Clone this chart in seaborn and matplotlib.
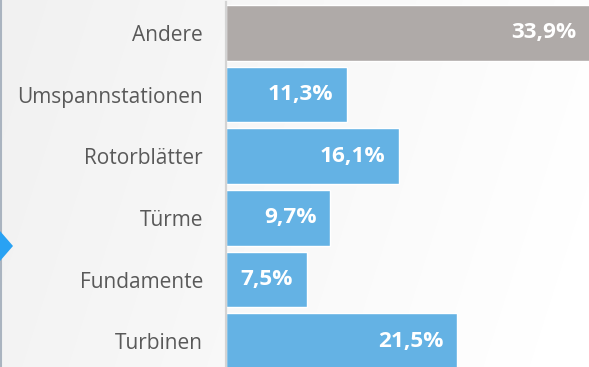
import numpy as np
import pandas as pd
import matplotlib
matplotlib.use("Agg")
import matplotlib.pyplot as plt
from matplotlib.patches import Polygon
from matplotlib.lines import Line2D
import seaborn as sns

categories = ["Andere", "Umspannstationen", "Rotorblätter", "Türme", "Fundamente", "Turbinen"]
shares = [33.9, 11.3, 16.1, 9.7, 7.5, 21.5]
value_labels = ["33,9%", "11,3%", "16,1%", "9,7%", "7,5%", "21,5%"]
bar_colors = ["#afaaa8", "#64b2e4", "#64b2e4", "#64b2e4", "#64b2e4", "#64b2e4"]

df = pd.DataFrame({"Kategorie": categories, "Anteil": shares})

sns.set_style("white")
plt.rcParams["font.family"] = ["Open Sans", "DejaVu Sans"]

W, H, DPI = 589, 367, 100
fig = plt.figure(figsize=(W / DPI, H / DPI), dpi=DPI)

# soft grey-to-white background
xx = np.linspace(0, 1, W)[None, :]
yy = np.linspace(0, 1, H)[:, None]
shade = 0.945 + 0.05 * xx + 0.01 * yy
shade = np.clip(shade, 0, 1)
bg = np.dstack([shade, shade, shade])
fig.figimage(bg, xo=0, yo=0, origin="upper", zorder=-10)

ax = fig.add_axes([226 / W, 1 - 372 / H, 1 - 226 / W, 370 / H])
ax.set_zorder(1)
ax.patch.set_alpha(0)

sns.barplot(data=df, y="Kategorie", x="Anteil", hue="Kategorie",
            palette=bar_colors, orient="h", width=0.9, legend=False,
            saturation=1, ax=ax)

ax.set_xlim(0, 33.77)
ax.set_ylim(5.5, -0.5)
ax.set_xlabel("")
ax.set_ylabel("")
ax.set_xticks([])
for s in ["top", "right", "bottom"]:
    ax.spines[s].set_visible(False)
ax.spines["left"].set_color("#d4d4d4")
ax.spines["left"].set_linewidth(1.6)
ax.tick_params(axis="y", length=0, pad=16.5, labelsize=15, labelcolor="#595959")

for i, (v, lab) in enumerate(zip(shares, value_labels)):
    ax.annotate(lab, xy=(v, i), xytext=(-10, 0), textcoords="offset points",
                ha="right", va="center", color="white", fontsize=16.2,
                fontweight="bold", annotation_clip=False)

# left edge marker
fig.add_artist(Line2D([1 / W, 1 / W], [0, 1], transform=fig.transFigure,
                      color="#aab4c0", linewidth=1.5, zorder=2))
tri = Polygon([[0, 1 - 231 / H], [13 / W, 1 - 246 / H], [0, 1 - 261 / H]],
              closed=True, transform=fig.transFigure, facecolor="#29a2f3",
              edgecolor="none", zorder=2)
fig.add_artist(tri)

fig.savefig("out.png", dpi=DPI)
